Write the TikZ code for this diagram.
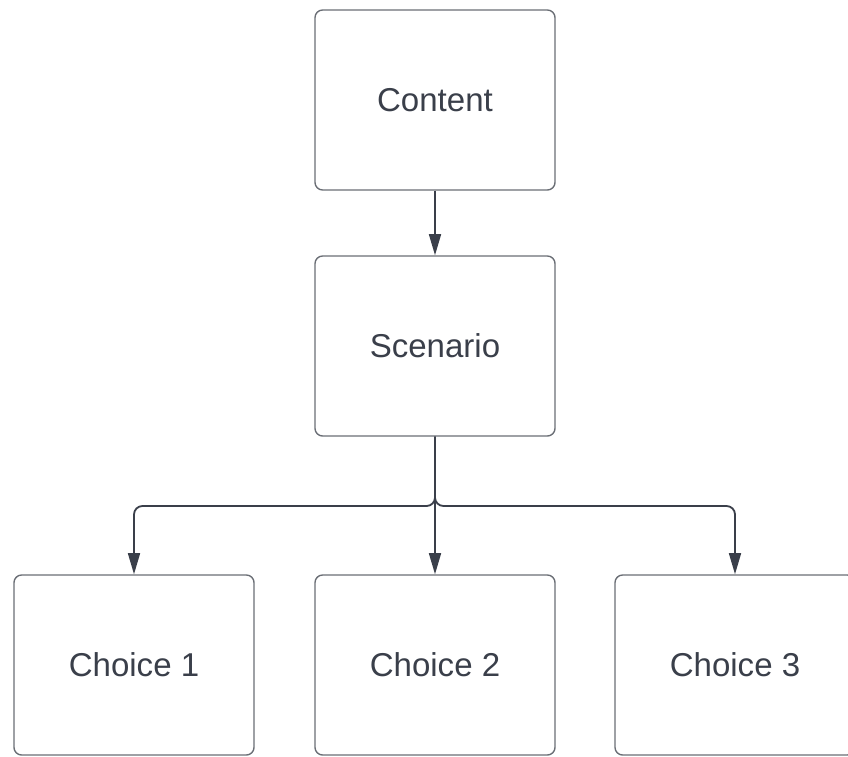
\documentclass[tikz,border=0pt]{standalone}
\usepackage{fontspec}
\setmainfont{Liberation Sans}
\usetikzlibrary{arrows.meta}
\definecolor{linegray}{HTML}{3A3F4A}
\definecolor{boxgray}{HTML}{6A6E75}
\begin{document}
\begin{tikzpicture}[x=0.025cm,y=-0.025cm,
  box/.style={draw=boxgray,line width=1pt,rounded corners=5.5pt,fill=white,
    minimum width=6cm,minimum height=4.5cm,inner sep=0pt,text=linegray,
    font=\fontsize{23.5}{28}\selectfont},
  link/.style={draw=linegray,line width=1.3pt,rounded corners=6pt,
    -{Triangle[length=15pt,width=8.5pt]}}]
\clip (0,0) rectangle (848,756);     % picture frame
\node[box] (content)  at (435,100) {Content};
\node[box] (scenario) at (435,346) {Scenario};
\node[box] (choice1)  at (134,665) {Choice 1};
\node[box] (choice2)  at (435,665) {Choice 2};
\node[box] (choice3)  at (735,665) {Choice 3};
\coordinate (split) at (435,506);    % branching point
\draw[link] (content) -- (scenario);
\draw[link] (scenario.south) -- (split) -| (choice1.north);
\draw[link] (scenario.south) -- (choice2.north);
\draw[link] (scenario.south) -- (split) -| (choice3.north);
\end{tikzpicture}
\end{document}
